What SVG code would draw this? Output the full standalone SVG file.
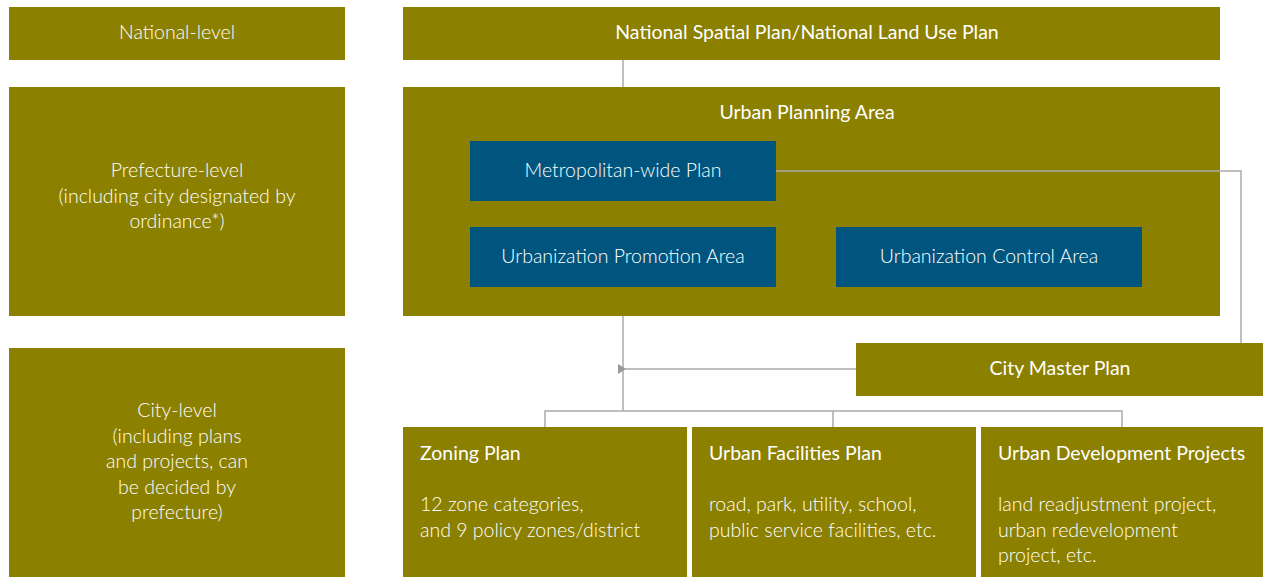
<svg xmlns="http://www.w3.org/2000/svg" width="1263" height="580" viewBox="0 0 1263 580">
<defs>
<style>
.olive{fill:#8c8000}
.blue{fill:#00557f}
text{font-family:Lato,"Open Sans","Liberation Sans",sans-serif;fill:#ffffff;font-size:19.5px}
.l{font-weight:300}
.m{font-weight:400}
.c{text-anchor:middle}
.conn{fill:none;stroke:#aaaaaa;stroke-width:1.5}
</style>
<marker id="arr" markerWidth="8" markerHeight="10" refX="1" refY="5" orient="auto" markerUnits="userSpaceOnUse">
<path d="M8,0 L0,5 L8,10 Z" fill="#999999"/>
</marker>
</defs>
<rect width="1263" height="580" fill="#ffffff"/>
<g id="national-level">
<rect class="olive" x="9" y="7" width="336" height="53"/>
<text class="l c" x="177" y="39">National-level</text>
</g>
<g id="national-plan">
<rect class="olive" x="403" y="7" width="817" height="53"/>
<text class="m c" x="807" y="39">National Spatial Plan/National Land Use Plan</text>
</g>
<g id="prefecture-level">
<rect class="olive" x="9" y="87" width="336" height="229"/>
<text class="l c" x="177" y="177">Prefecture-level</text>
<text class="l c" x="177" y="203">(including city designated by</text>
<text class="l c" x="177" y="228">ordinance*)</text>
</g>
<g id="urban-planning-area">
<rect class="olive" x="403" y="87" width="817" height="229"/>
<text class="m c" x="807" y="119">Urban Planning Area</text>
</g>
<g id="metropolitan-plan">
<rect class="blue" x="470" y="141" width="306" height="60"/>
<text class="l c" x="623" y="177">Metropolitan-wide Plan</text>
</g>
<g id="promotion-area">
<rect class="blue" x="470" y="227" width="306" height="60"/>
<text class="l c" x="623" y="263">Urbanization Promotion Area</text>
</g>
<g id="control-area">
<rect class="blue" x="836" y="227" width="306" height="60"/>
<text class="l c" x="989" y="263">Urbanization Control Area</text>
</g>
<g id="city-master-plan">
<rect class="olive" x="856" y="343" width="407" height="53"/>
<text class="m c" x="1060" y="375">City Master Plan</text>
</g>
<g id="city-level">
<rect class="olive" x="9" y="348" width="336" height="229"/>
<text class="l c" x="177" y="417">City-level</text>
<text class="l c" x="177" y="443">(including plans</text>
<text class="l c" x="177" y="468">and projects, can</text>
<text class="l c" x="177" y="494">be decided by</text>
<text class="l c" x="177" y="519">prefecture)</text>
</g>
<g id="zoning-plan">
<rect class="olive" x="403" y="427" width="284" height="150"/>
<text class="m" x="420" y="460">Zoning Plan</text>
<text class="l" x="420" y="511">12 zone categories,</text>
<text class="l" x="420" y="537">and 9 policy zones/district</text>
</g>
<g id="urban-facilities-plan">
<rect class="olive" x="692" y="427" width="284" height="150"/>
<text class="m" x="709" y="460">Urban Facilities Plan</text>
<text class="l" x="709" y="511">road, park, utility, school,</text>
<text class="l" x="709" y="537">public service facilities, etc.</text>
</g>
<g id="urban-development-projects">
<rect class="olive" x="981" y="427" width="282" height="150"/>
<text class="m" x="998" y="460">Urban Development Projects</text>
<text class="l" x="998" y="511">land readjustment project,</text>
<text class="l" x="998" y="537">urban redevelopment</text>
<text class="l" x="998" y="562">project, etc.</text>
</g>
<g id="connectors">
<path class="conn" d="M623,60 V87"/>
<path class="conn" d="M623,316 V411"/>
<path class="conn" d="M545,427 V411 H1122 V427"/>
<path class="conn" d="M833,411 V427"/>
<path class="conn" d="M856,369 H625" marker-end="url(#arr)"/>
<path class="conn" d="M776,171 H1241 V343"/>
</g>
</svg>
